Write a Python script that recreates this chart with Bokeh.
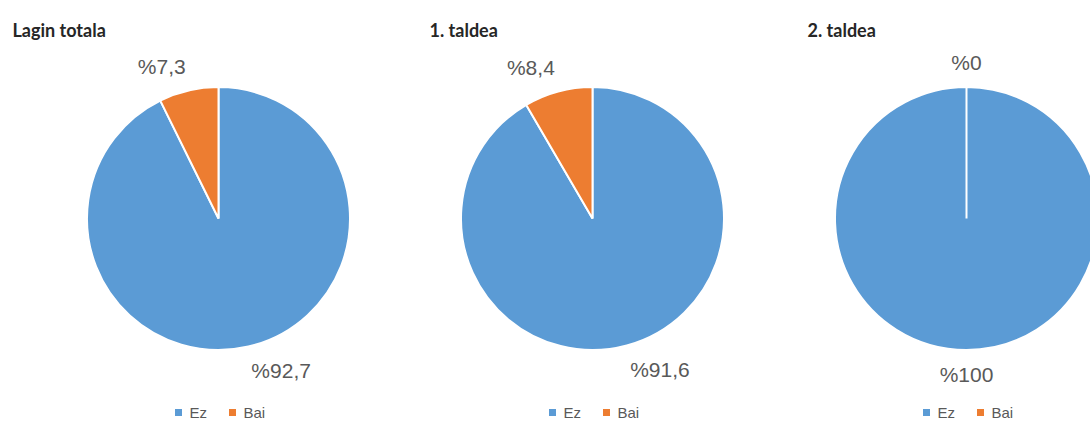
import math
from bokeh.plotting import figure
from bokeh.models import Range1d
from bokeh.core.properties import value
from bokeh.embed import file_html
from bokeh.resources import INLINE

# ---- data ----
groups = ["Lagin totala", "1. taldea", "2. taldea"]
categories = ["Ez", "Bai"]
ez_values = [92.7, 91.6, 100.0]
bai_values = [7.3, 8.4, 0.0]
ez_labels = ["%92,7", "%91,6", "%100"]
bai_labels = ["%7,3", "%8,4", "%0"]
colors = ["#5B9BD5", "#ED7D31"]

# ---- layout (picture pixels) ----
FW, FH = 1090, 421
centers_x = [218, 592, 966]
center_y_px = 218
radius = 131.5
title_x = [12, 429, 807]
title_y_px = 29
legend_y_px = 412
label_gap = 13
TEXT = "#595959"

def Y(ypx):
    return FH - ypx

p = figure(width=FW, height=FH, output_backend="svg",
           toolbar_location=None, x_range=Range1d(0, FW), y_range=Range1d(0, FH),
           min_border=0)
p.axis.visible = False
p.grid.visible = False
p.outline_line_color = None
p.background_fill_color = "white"
p.border_fill_color = "white"

for i, g in enumerate(groups):
    cx = centers_x[i]
    cy = Y(center_y_px)
    vals = [ez_values[i], bai_values[i]]
    labs = [ez_labels[i], bai_labels[i]]
    total = sum(vals)
    cum = 0.0
    for j, v in enumerate(vals):
        frac = v / total
        a0 = math.pi / 2 - 2 * math.pi * cum
        a1 = math.pi / 2 - 2 * math.pi * (cum + frac)
        if frac > 0:
            if frac >= 0.9999:
                a1 = a0 - 2 * math.pi + 1e-4
            p.wedge(x=[cx], y=[cy], radius=radius, start_angle=a0, end_angle=a1,
                    direction="clock", fill_color=colors[j], line_color="white",
                    line_width=2)
        # label at mid-angle (clockwise from top)
        mid = 2 * math.pi * (cum + frac / 2)
        dx, dy = math.sin(mid), math.cos(mid)
        px = cx + (radius + label_gap) * dx
        py = cy + (radius + label_gap) * dy
        align = "center" if abs(dx) < 0.05 else ("left" if dx > 0 else "right")
        base = "top" if dy < 0 else "bottom"
        p.text(x=[px], y=[py], text=[labs[j]], text_font=value("Liberation Sans"),
               text_font_size="21px", text_color=TEXT, text_align=align,
               text_baseline=base)
        cum += frac
    # title
    p.text(x=[title_x[i]], y=[Y(title_y_px)], text=[g], text_font=value("Lato"),
           text_font_style="bold", text_font_size="18px", text_color="#262626",
           text_align="left", text_baseline="alphabetic")
    # legend
    sq_off = [-40, 14]
    tx_off = [-29, 25]
    for j, c in enumerate(categories):
        p.scatter(x=[cx + sq_off[j]], y=[Y(legend_y_px)], marker="square", size=7,
                  fill_color=colors[j], line_color=None)
        p.text(x=[cx + tx_off[j]], y=[Y(legend_y_px)], text=[c],
               text_font=value("Liberation Sans"), text_font_size="15px",
               text_color=TEXT, text_align="left", text_baseline="middle")

open("out.html", "w").write(file_html(p, INLINE))
